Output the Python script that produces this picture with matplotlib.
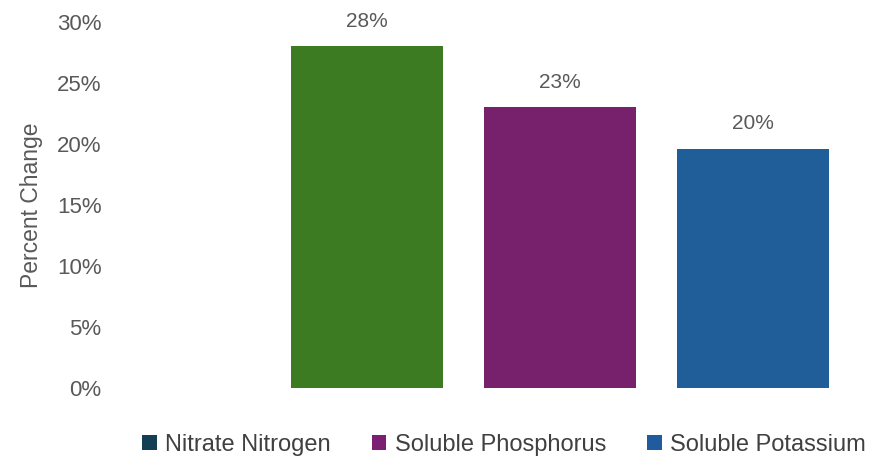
import numpy as np
import matplotlib.pyplot as plt
from matplotlib.patches import Patch

# nutrient change values
nutrients = ["Nitrate Nitrogen", "Soluble Phosphorus", "Soluble Potassium"]
pct_change = [0.28, 0.23, 0.196]
bar_colors = ["#3d7b22", "#77206b", "#1f5e99"]
legend_colors = ["#133f55", "#7a1f72", "#1f5b9e"]
yticks = [0, 0.05, 0.10, 0.15, 0.20, 0.25, 0.30]

grey = "#595959"
plt.rcParams['font.family'] = ['Liberation Sans', 'DejaVu Sans']

fig = plt.figure(figsize=(8.69, 4.61), dpi=100)
ax = fig.add_axes([110 / 869, 1 - 388 / 461, 759 / 869, 366 / 461])

x = np.arange(len(nutrients))
bars = ax.bar(x, pct_change, width=0.79, color=bar_colors)

for b, v in zip(bars, pct_change):
    ax.text(b.get_x() + b.get_width() / 2, v + 0.013, "{:.0%}".format(v),
            ha='center', va='bottom', fontsize=15, color=grey)

ax.set_xlim(-1.33, 2.60)
ax.set_ylim(0, 0.30)
ax.set_yticks(yticks)
ax.set_yticklabels(["{:.0%}".format(t) for t in yticks], fontsize=16, color=grey)
ax.tick_params(axis='y', length=0, pad=6)
ax.set_xticks([])
for sp in ax.spines.values():
    sp.set_visible(False)

ax.set_ylabel("Percent Change", fontsize=16.5, color=grey, labelpad=10)

handles = [Patch(facecolor=c, edgecolor='none') for c in legend_colors]
fig.legend(handles, nutrients, loc='center', bbox_to_anchor=(504 / 869, 1 - 445 / 461),
           ncol=3, frameon=False, handlelength=0.62, handleheight=0.62,
           handletextpad=0.35, columnspacing=1.75,
           prop={'size': 17})
for t in fig.legends[0].get_texts():
    t.set_color("#404040")

fig.savefig("out.png", dpi=100)
